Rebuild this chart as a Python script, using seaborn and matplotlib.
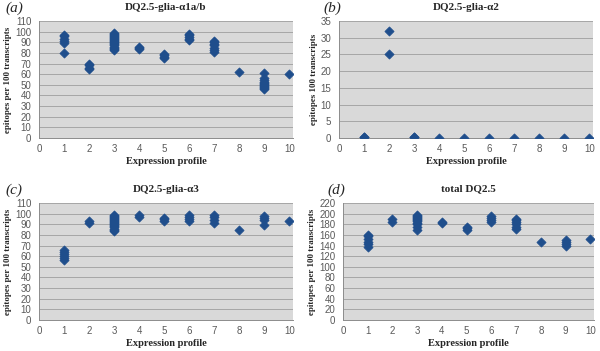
import matplotlib
matplotlib.use("Agg")
import matplotlib.pyplot as plt
import numpy as np
import pandas as pd
import seaborn as sns

sns.set_style("white")
plt.rcParams["font.family"] = ["Liberation Sans", "DejaVu Sans"]

# panel (a) DQ2.5-glia-α1a/b
a_x = [1] * 6 + [2] * 4 + [3] * 17 + [4] * 3 + [5] * 4 + [6] * 5 + [7] * 7 + [8] + [9] * 11 + [10]
a_y = [80, 89, 91, 93, 96, 97,
       65, 66, 69, 70,
       83, 84, 85, 86, 87, 88, 89, 90, 91, 92, 93, 94, 95, 96, 97, 98, 99,
       84, 85, 86,
       75, 76, 78, 79,
       92, 93, 95, 97, 98,
       81, 83, 85, 87, 88, 90, 91,
       62,
       46, 47, 48, 49, 50, 51, 52, 53, 55, 56, 61,
       60]

# panel (b) DQ2.5-glia-α2
b_x = [1, 1, 2, 2, 3, 3, 4, 5, 6, 7, 8, 9, 10]
b_y = [0.2, 0.4, 25, 32, 0.2, 0.4, 0, 0, 0, 0, 0, 0, 0]

# panel (c) DQ2.5-glia-α3
c_x = [1] * 6 + [2] * 2 + [3] * 16 + [4] * 2 + [5] * 3 + [6] * 4 + [7] * 4 + [8] + [9] * 4 + [10]
c_y = [56, 58, 60, 62, 64, 66,
       91, 93,
       84, 85, 86, 87, 88, 89, 90, 91, 92, 93, 94, 95, 96, 97, 98, 99,
       97, 99,
       93, 95, 96,
       93, 95, 97, 99,
       91, 94, 97, 99,
       85,
       89, 94, 96, 98,
       93]

# panel (d) total DQ2.5
d_x = [1] * 6 + [2] * 2 + [3] * 11 + [4] * 2 + [5] * 3 + [6] * 4 + [7] * 6 + [8] + [9] * 4 + [10]
d_y = [138, 142, 147, 153, 158, 160,
       185, 190,
       170, 175, 180, 183, 186, 188, 190, 192, 194, 196, 198,
       182, 184,
       170, 173, 175,
       184, 188, 192, 196,
       172, 175, 180, 185, 188, 190,
       147,
       140, 143, 146, 150,
       153]

panels = [
    ("(a)", "DQ2.5-glia-α1a/b", "epitopes per 100 transcripts", a_x, a_y, 110, 10),
    ("(b)", "DQ2.5-glia-α2", "epitopes 100 transcripts", b_x, b_y, 35, 5),
    ("(c)", "DQ2.5-glia-α3", "epitopes per 100 transcripts", c_x, c_y, 110, 10),
    ("(d)", "total DQ2.5", "epitopes per 100 transcripts", d_x, d_y, 220, 20),
]
# axes rectangles in pixels: left, top, right, bottom
boxes = [(39, 21, 293, 138), (339, 21, 593, 138), (39, 203, 293, 320), (343, 203, 594, 320)]

W, H = 600, 351
fig = plt.figure(figsize=(6, 3.51), dpi=100)
serif = ["Liberation Serif", "DejaVu Serif"]

for (lab, title, ylab, xs, ys, ymax, step), (l, t, r, b) in zip(panels, boxes):
    ax = fig.add_axes([l / W, 1 - b / H, (r - l) / W, (b - t) / H])
    ax.set_facecolor("#d9d9d9")
    df = pd.DataFrame({"profile": xs, "epitopes": ys})
    sns.scatterplot(data=df, x="profile", y="epitopes", marker="D", s=22,
                    color="#1f4e8c", edgecolor="#1f4e8c", linewidth=0.5, ax=ax, zorder=3)
    ax.set_xlim(0, 10.15)
    ax.set_ylim(0, ymax)
    ax.set_xticks(range(0, 11))
    ax.set_yticks(np.arange(0, ymax + 1, step))
    ax.yaxis.grid(True, color="#a6a6a6", lw=0.7)
    ax.set_axisbelow(True)
    for s in ["top", "right"]:
        ax.spines[s].set_visible(False)
    for s in ["left", "bottom"]:
        ax.spines[s].set_color("#8c8c8c")
        ax.spines[s].set_linewidth(0.7)
    ax.tick_params(labelsize=7, colors="#595959", length=2.5, width=0.6, pad=3)
    ax.tick_params(axis="x", pad=2)
    ax.set_xlabel("Expression profile", family=serif, fontweight="bold", fontsize=7.5, labelpad=2)
    ax.set_ylabel(ylab, family=serif, fontweight="bold", fontsize=6.5, labelpad=2)
    cx = (l + r) / 2
    fig.text(cx / W, 1 - (t - 14) / H, title, family=serif, fontweight="bold",
             fontsize=8, ha="center", va="center")
    fig.text((l - 34) / W if l < 300 else (l - 16) / W, 1 - (t - 13) / H, lab,
             family=serif, style="italic", fontsize=11, ha="left", va="center")

fig.savefig("out.png", dpi=100, facecolor="white")
